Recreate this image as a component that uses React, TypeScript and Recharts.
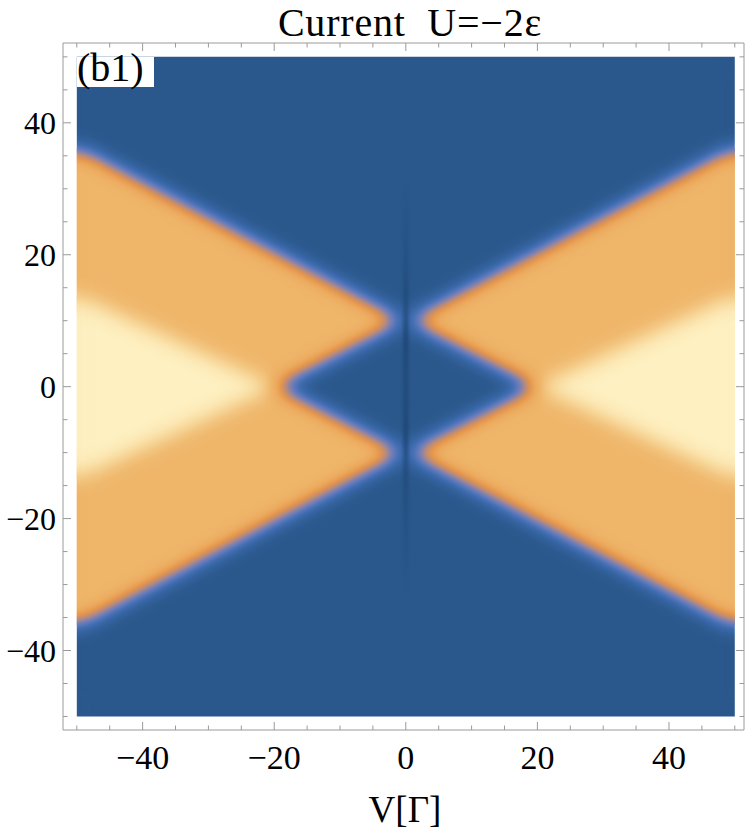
import React from 'react';
import { ComposedChart, Area, XAxis, YAxis } from 'recharts';

// ---- data ----
// field levels: 0.15 = blue background, 0.72 = orange, 1 = pale yellow
const backgroundField = [
  { v: -50, r: [-50, 50] },
  { v: 50, r: [-50, 50] },
];
const bandLeft = [
  { v: -50, r: [-36.2, 36.2] },
  { v: -0.5, r: [-10, 10] },
];
const bandRight = [
  { v: 0.5, r: [-10, 10] },
  { v: 50, r: [-36.2, 36.2] },
];
const centralDiamond = [
  { v: -20, r: [0, 0] },
  { v: 0, r: [-10.3, 10.3] },
  { v: 20, r: [0, 0] },
];
const yellowLeft = [
  { v: -50, r: [-13.8, 13.8] },
  { v: -20, r: [0, 0] },
];
const yellowRight = [
  { v: 20, r: [0, 0] },
  { v: 50, r: [-13.8, 13.8] },
];
// thin dark line along V = 0
const centreLine = [
  { v: -0.4, r: [-31, 31] },
  { v: 0.4, r: [-31, 31] },
];

const LEVEL_BACKGROUND = 0.15;
const LEVEL_ORANGE = 0.72;
const LEVEL_YELLOW = 1.0;

const TICKS = [-50, -45, -40, -35, -30, -25, -20, -15, -10, -5, 0, 5, 10, 15, 20, 25, 30, 35, 40, 45, 50];
const MAJOR_TICKS = [-40, -20, 0, 20, 40];

const TITLE = 'Current  U=\u22122\u03b5';
const X_LABEL = 'V[\u0393]';
const PANEL_LABEL = '(b1)';

// ---- layout ----
const W = 750;
const H = 832;
const FIELD_MARGIN = { top: 43, right: 6, bottom: 102, left: 63 };
const AXIS_MARGIN = { top: 42, right: 5, bottom: 101, left: 62 };
const X_DOMAIN: [number, number] = [-52.1, 51.4];
const Y_DOMAIN: [number, number] = [-52.05, 52.1];
const FONT = "'Liberation Serif', 'Times New Roman', serif";
const FRAME = '#9a9a9a';

// colour ramp (Mathematica-like density gradient)
const STOPS: number[][] = [
  [0.0, 12, 45, 95],
  [0.15, 43, 89, 141],
  [0.27, 62, 108, 176],
  [0.37, 105, 125, 190],
  [0.47, 180, 138, 130],
  [0.56, 229, 150, 76],
  [0.64, 236, 170, 94],
  [0.72, 239, 182, 106],
  [0.86, 247, 213, 150],
  [1.0, 254, 240, 193],
];
function ramp(channel: number): string {
  const out: string[] = [];
  for (let i = 0; i <= 50; i++) {
    const t = i / 50;
    let k = 0;
    while (k < STOPS.length - 2 && STOPS[k + 1][0] < t) k++;
    const a = STOPS[k];
    const b = STOPS[k + 1];
    const f = Math.min(1, Math.max(0, (t - a[0]) / (b[0] - a[0])));
    out.push(((a[channel] + (b[channel] - a[channel]) * f) / 255).toFixed(4));
  }
  return out.join(' ');
}
const grey = (v: number) => {
  const c = Math.round(v * 255);
  return `rgb(${c},${c},${c})`;
};

const fmt = (v: number) => (v < 0 ? '\u2212' + Math.abs(v) : String(v));

const BottomTick = (props: any) => {
  const { x, y, payload } = props;
  const major = MAJOR_TICKS.includes(payload.value);
  return (
    <g>
      <line x1={x} x2={x} y1={y} y2={y - (major ? 8 : 4.5)} stroke={FRAME} strokeWidth={1} />
      {major && (
        <text x={x} y={y + 39} textAnchor="middle" fontSize={34} fontFamily={FONT} fill="#000">
          {fmt(payload.value)}
        </text>
      )}
    </g>
  );
};
const TopTick = (props: any) => {
  const { x, y, payload } = props;
  const major = MAJOR_TICKS.includes(payload.value);
  return <line x1={x} x2={x} y1={y} y2={y + (major ? 8 : 4.5)} stroke={FRAME} strokeWidth={1} />;
};
const LeftTick = (props: any) => {
  const { x, y, payload } = props;
  const major = MAJOR_TICKS.includes(payload.value);
  return (
    <g>
      <line x1={x} x2={x + (major ? 8 : 4.5)} y1={y} y2={y} stroke={FRAME} strokeWidth={1} />
      {major && (
        <text x={x - 7} y={y + 11} textAnchor="end" fontSize={32} fontFamily={FONT} fill="#000">
          {fmt(payload.value)}
        </text>
      )}
    </g>
  );
};
const RightTick = (props: any) => {
  const { x, y, payload } = props;
  const major = MAJOR_TICKS.includes(payload.value);
  return <line x1={x} x2={x - (major ? 8 : 4.5)} y1={y} y2={y} stroke={FRAME} strokeWidth={1} />;
};

const fieldArea = (key: string, data: any[], level: number) => (
  <Area
    key={key}
    data={data}
    dataKey="r"
    type="linear"
    stroke="none"
    fill={grey(level)}
    fillOpacity={1}
    dot={false}
    activeDot={false}
    isAnimationActive={false}
  />
);

const axisCommon = {
  type: 'number' as const,
  allowDataOverflow: true,
  ticks: TICKS,
  interval: 0 as const,
  tickSize: 0,
  tickMargin: 0,
  tickLine: false,
  axisLine: { stroke: FRAME },
};

export default function App() {
  return (
    <div style={{ position: 'absolute', left: 0, top: 0, width: W, height: H, background: '#fff' }}>
      <svg width={0} height={0} style={{ position: 'absolute' }}>
        <defs>
          <filter id="heat" colorInterpolationFilters="sRGB" x="-2%" y="-2%" width="104%" height="104%">
            <feGaussianBlur in="SourceGraphic" stdDeviation={10} result="blur" />
            <feComponentTransfer in="blur" result="coloured">
              <feFuncR type="table" tableValues={ramp(1)} />
              <feFuncG type="table" tableValues={ramp(2)} />
              <feFuncB type="table" tableValues={ramp(3)} />
              <feFuncA type="linear" slope={0} intercept={1} />
            </feComponentTransfer>
            <feComposite in="coloured" in2="SourceGraphic" operator="in" />
          </filter>
          <linearGradient id="lineFade" x1="0" y1="0" x2="0" y2="1">
            <stop offset="0" stopColor="#143a66" stopOpacity={0} />
            <stop offset="0.25" stopColor="#143a66" stopOpacity={0.3} />
            <stop offset="0.36" stopColor="#143a66" stopOpacity={0.55} />
            <stop offset="0.5" stopColor="#143a66" stopOpacity={0.4} />
            <stop offset="0.64" stopColor="#143a66" stopOpacity={0.55} />
            <stop offset="0.75" stopColor="#143a66" stopOpacity={0.3} />
            <stop offset="1" stopColor="#143a66" stopOpacity={0} />
          </linearGradient>
        </defs>
      </svg>

      {/* density field */}
      <div style={{ position: 'absolute', left: 0, top: 0, width: W, height: H, filter: 'url(#heat)' }}>
        <ComposedChart width={W} height={H} margin={FIELD_MARGIN}>
          <XAxis type="number" dataKey="v" domain={X_DOMAIN} allowDataOverflow hide />
          <YAxis type="number" domain={Y_DOMAIN} allowDataOverflow hide />
          {fieldArea('bg', backgroundField, LEVEL_BACKGROUND)}
          {fieldArea('bl', bandLeft, LEVEL_ORANGE)}
          {fieldArea('br', bandRight, LEVEL_ORANGE)}
          {fieldArea('dm', centralDiamond, LEVEL_BACKGROUND)}
          {fieldArea('yl', yellowLeft, LEVEL_YELLOW)}
          {fieldArea('yr', yellowRight, LEVEL_YELLOW)}
        </ComposedChart>
      </div>

      {/* dark line at V = 0 */}
      <div style={{ position: 'absolute', left: 0, top: 0, width: W, height: H, filter: 'blur(1.8px)' }}>
        <ComposedChart width={W} height={H} margin={FIELD_MARGIN}>
          <XAxis type="number" dataKey="v" domain={X_DOMAIN} allowDataOverflow hide />
          <YAxis type="number" domain={Y_DOMAIN} allowDataOverflow hide />
          <Area
            data={centreLine}
            dataKey="r"
            type="linear"
            stroke="none"
            fill="url(#lineFade)"
            fillOpacity={1}
            dot={false}
            activeDot={false}
            isAnimationActive={false}
          />
        </ComposedChart>
      </div>

      {/* frame, ticks and labels */}
      <div style={{ position: 'absolute', left: 0, top: 0, width: W, height: H }}>
        <ComposedChart width={W} height={H} margin={AXIS_MARGIN}>
          <XAxis xAxisId="b" orientation="bottom" dataKey="v" domain={X_DOMAIN} height={1} tick={<BottomTick />} {...axisCommon} />
          <XAxis xAxisId="t" orientation="top" dataKey="v" domain={X_DOMAIN} height={1} tick={<TopTick />} {...axisCommon} />
          <YAxis yAxisId="l" orientation="left" domain={Y_DOMAIN} width={1} tick={<LeftTick />} {...axisCommon} />
          <YAxis yAxisId="r" orientation="right" domain={Y_DOMAIN} width={1} tick={<RightTick />} {...axisCommon} />
          <Area data={backgroundField} dataKey="r" xAxisId="b" yAxisId="l" stroke="none" fillOpacity={0} dot={false} activeDot={false} isAnimationActive={false} />
          <Area data={backgroundField} dataKey="r" xAxisId="t" yAxisId="r" stroke="none" fillOpacity={0} dot={false} activeDot={false} isAnimationActive={false} />
        </ComposedChart>
      </div>

      {/* titles and panel tag */}
      <svg width={W} height={H} style={{ position: 'absolute', left: 0, top: 0, pointerEvents: 'none' }}>
        <text x={410} y={36} textAnchor="middle" fontSize={40} letterSpacing={0.8} fontFamily={FONT} fill="#000" style={{ whiteSpace: 'pre' }}>
          {TITLE}
        </text>
        <text x={405} y={822} textAnchor="middle" fontSize={37} fontFamily={FONT} fill="#000">
          {X_LABEL}
        </text>
        <rect x={77} y={57} width={77} height={30} fill="#fff" />
        <text x={77} y={81} fontSize={40} fontFamily={FONT} fill="#000">
          {PANEL_LABEL}
        </text>
      </svg>
    </div>
  );
}
